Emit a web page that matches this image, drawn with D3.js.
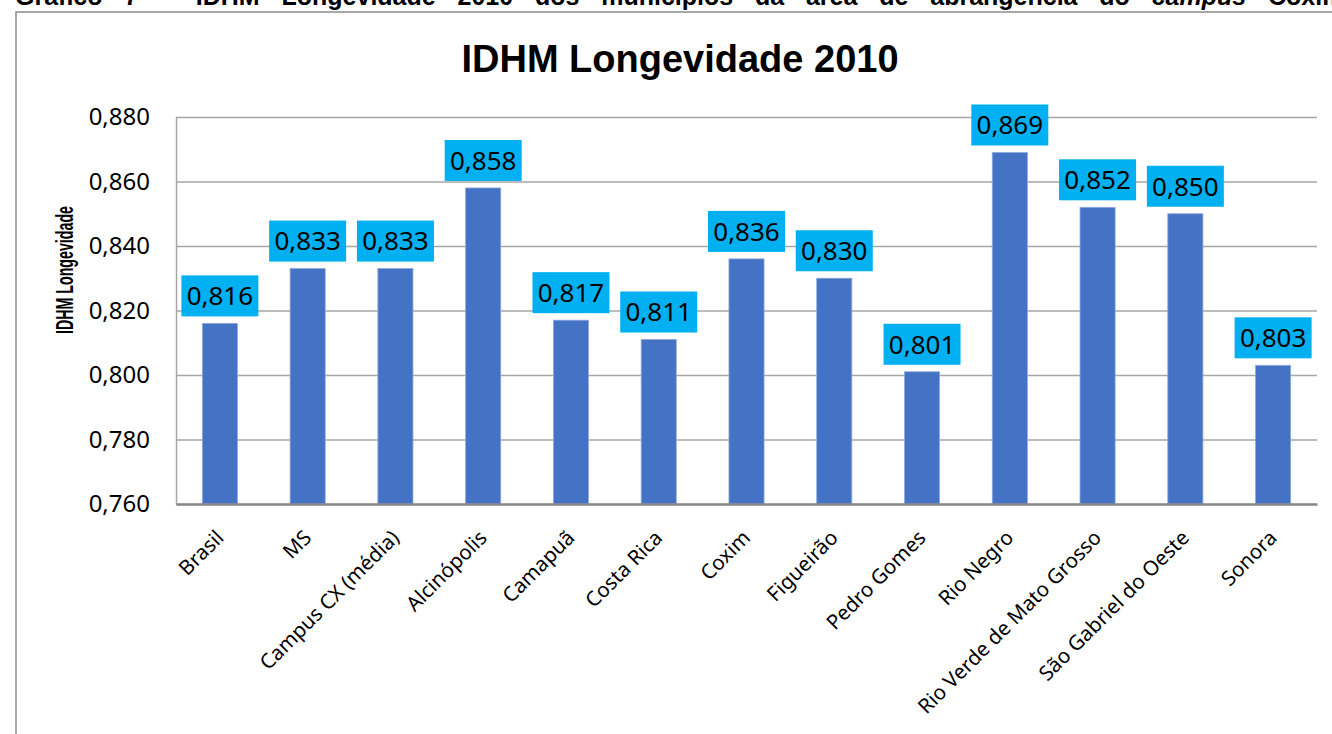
<!DOCTYPE html>
<meta charset="utf-8">
<head>
    <style>
        body { margin: 0; background: #fff; }
        svg { display: block; }
    </style>
</head>
<body>
    <div id="chart"></div>

    <script src="https://d3js.org/d3.v7.min.js"></script>
    <script>
        // chart data
        let categories = ['Brasil', 'MS', 'Campus CX (média)', 'Alcinópolis', 'Camapuã', 'Costa Rica', 'Coxim',
                          'Figueirão', 'Pedro Gomes', 'Rio Negro', 'Rio Verde de Mato Grosso', 'São Gabriel do Oeste', 'Sonora'];
        let values = [0.816, 0.833, 0.833, 0.858, 0.817, 0.811, 0.836, 0.830, 0.801, 0.869, 0.852, 0.850, 0.803];
        let yTicks = [0.760, 0.780, 0.800, 0.820, 0.840, 0.860, 0.880];
        let captionWords = ['Gráfico', '7', '–', 'IDHM', 'Longevidade', '2010', 'dos', 'municípios', 'da', 'área',
                            'de', 'abrangência', 'do', 'campus', 'Coxim'];

        // chart default setting
        let svgWidth = 1332;
        let svgHeight = 734;
        let plot = {left: 176, right: 1317, top: 117, bottom: 504};
        let labelFont = '"Noto Sans", "Open Sans", sans-serif';

        // comma decimal like the original
        let ptBR = d3.formatLocale({decimal: ',', thousands: '.', grouping: [3], currency: ['R$', '']});
        let fmt = ptBR.format('.3f');

        let svg = d3.select('#chart')
                    .append('svg')
                    .attr('width', svgWidth)
                    .attr('height', svgHeight);

        // caption above the frame (cut by the top edge), justified
        let cap = svg.append('g')
                     .style('font-family', '"Liberation Sans", Arial, sans-serif')
                     .style('font-weight', 'bold')
                     .style('font-size', '25px');
        let capTexts = cap.selectAll('text')
                          .data(captionWords)
                          .enter()
                          .append('text')
                          .attr('y', 5)
                          .style('font-style', d => d === 'campus' ? 'italic' : 'normal')
                          .text(d => d);
        let widths = [];
        capTexts.each(function() { widths.push(this.getComputedTextLength()); });
        let capStart = 15, lastStart = 1268;
        let gap = (lastStart - capStart - d3.sum(widths.slice(0, -1))) / (captionWords.length - 1);
        let cx = capStart;
        capTexts.attr('x', (d, i) => {
            let x = cx;
            cx += widths[i] + gap;
            return x;
        });

        // outer frame
        svg.append('rect')
           .attr('x', 16)
           .attr('y', 12)
           .attr('width', 1400)
           .attr('height', 800)
           .attr('fill', 'none')
           .attr('stroke', '#8c8c8c')
           .attr('stroke-width', 1.5);

        // scales
        let x = d3.scaleBand()
                  .domain(categories)
                  .range([plot.left, plot.right])
                  .paddingInner(0.6)
                  .paddingOuter(0.3);
        let y = d3.scaleLinear()
                  .domain([0.760, 0.880])
                  .range([plot.bottom, plot.top]);

        // gridlines
        let grid = svg.append('g')
                      .attr('transform', `translate(${plot.left}, 0)`)
                      .call(d3.axisLeft(y).tickValues(yTicks).tickSize(-(plot.right - plot.left)).tickFormat(''));
        grid.select('.domain').remove();
        grid.selectAll('line').attr('stroke', '#a6a6a6').attr('stroke-width', 1.5);

        // y axis
        let yAxis = svg.append('g')
                       .attr('transform', `translate(${plot.left}, 0)`)
                       .call(d3.axisLeft(y).tickValues(yTicks).tickSize(0).tickPadding(26).tickFormat(fmt));
        yAxis.select('.domain').attr('stroke', '#a6a6a6').attr('stroke-width', 1.5);
        yAxis.selectAll('text')
             .style('font-family', labelFont)
             .style('font-size', '24px')
             .attr('fill', '#000');

        // bars
        svg.selectAll('rect.bar')
           .data(values)
           .enter()
           .append('rect')
           .attr('class', 'bar')
           .attr('x', (d, i) => x(categories[i]))
           .attr('y', d => y(d))
           .attr('width', x.bandwidth())
           .attr('height', d => plot.bottom - y(d))
           .attr('fill', '#4472c4')
           .attr('stroke', '#8fa9dc')
           .attr('stroke-width', 0.8);

        // x axis
        let xAxis = svg.append('g')
                       .attr('transform', `translate(0, ${plot.bottom})`)
                       .call(d3.axisBottom(x).tickSize(0));
        xAxis.select('.domain').attr('stroke', '#898989').attr('stroke-width', 2.5);
        xAxis.selectAll('text')
             .attr('y', 0)
             .attr('dy', 0)
             .attr('transform', 'translate(5, 35) rotate(-45)')
             .style('text-anchor', 'end')
             .style('font-family', labelFont)
             .style('font-size', '20.5px')
             .attr('fill', '#000');

        // data labels
        let labels = svg.selectAll('g.dlabel')
                        .data(values)
                        .enter()
                        .append('g')
                        .attr('class', 'dlabel')
                        .attr('transform', (d, i) => `translate(${x(categories[i]) + x.bandwidth() / 2}, ${y(d) - 7})`);
        labels.append('rect')
              .attr('x', -38.5)
              .attr('y', -41)
              .attr('width', 77)
              .attr('height', 41)
              .attr('fill', '#00b0f0');
        labels.append('text')
              .attr('y', -20.5)
              .attr('dy', '0.36em')
              .attr('text-anchor', 'middle')
              .style('font-family', labelFont)
              .style('font-size', '26px')
              .attr('fill', '#000')
              .text(d => fmt(d));

        // title
        svg.append('text')
           .attr('x', 680)
           .attr('y', 72)
           .attr('text-anchor', 'middle')
           .style('font-family', '"Liberation Sans", Arial, sans-serif')
           .style('font-weight', 'bold')
           .style('font-size', '38px')
           .text('IDHM Longevidade 2010');

        // y axis title (condensed like the original)
        svg.append('text')
           .attr('transform', 'translate(73, 270) rotate(-90)')
           .attr('text-anchor', 'middle')
           .attr('textLength', 128)
           .attr('lengthAdjust', 'spacingAndGlyphs')
           .style('font-family', '"Liberation Sans", Arial, sans-serif')
           .style('font-weight', 'bold')
           .style('font-size', '23px')
           .text('IDHM Longevidade');
    </script>
</body>
